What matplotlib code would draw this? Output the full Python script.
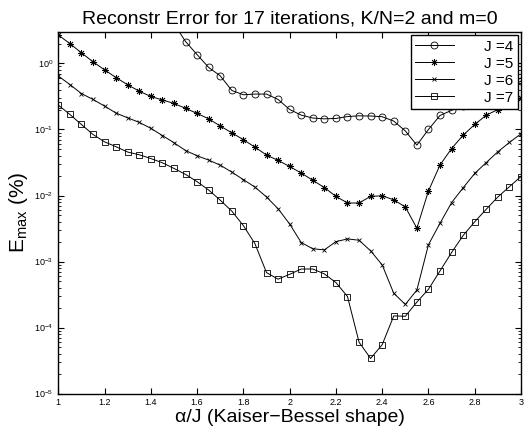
import numpy as np
import matplotlib.pyplot as plt

plt.rcParams["font.family"] = ["Liberation Sans", "DejaVu Sans"]
plt.rcParams["mathtext.fontset"] = "custom"
plt.rcParams["mathtext.rm"] = "Liberation Sans"
plt.rcParams["mathtext.it"] = "Liberation Sans:italic"
plt.rcParams["mathtext.default"] = "regular"

# alpha/J grid
alpha = [1.00, 1.05, 1.10, 1.15, 1.20, 1.25, 1.30, 1.35, 1.40, 1.45,
         1.50, 1.55, 1.60, 1.65, 1.70, 1.75, 1.80, 1.85, 1.90, 1.95,
         2.00, 2.05, 2.10, 2.15, 2.20, 2.25, 2.30, 2.35, 2.40, 2.45,
         2.50, 2.55, 2.60, 2.65, 2.70, 2.75, 2.80, 2.85, 2.90, 2.95, 3.00]

# J=4 only visible from 1.50 on
alpha_j4 = alpha[10:]
err_j4 = [4.0, 2.15, 1.36, 0.87, 0.65, 0.39, 0.336, 0.344, 0.344, 0.285,
          0.201, 0.165, 0.149, 0.145, 0.147, 0.157, 0.161, 0.160, 0.156, 0.134,
          0.095, 0.058, 0.100, 0.163, 0.195, 0.229, 0.27, 0.32, 0.38, 0.45, 0.54]

err_j5 = [2.7, 2.0, 1.45, 1.06, 0.80, 0.61, 0.475, 0.38, 0.316, 0.28,
          0.248, 0.209, 0.175, 0.145, 0.113, 0.089, 0.070, 0.054, 0.041, 0.034,
          0.0275, 0.0219, 0.017, 0.0132, 0.0097, 0.0077, 0.0077, 0.0097, 0.0099, 0.0086,
          0.0067, 0.0032, 0.0117, 0.029, 0.0515, 0.082, 0.119, 0.165, 0.20, 0.243, 0.295]

err_j6 = [0.644, 0.48, 0.35, 0.285, 0.226, 0.177, 0.150, 0.128, 0.104, 0.081,
          0.063, 0.048, 0.040, 0.0344, 0.0288, 0.0226, 0.0174, 0.0134, 0.0095, 0.0063,
          0.0037, 0.00194, 0.00156, 0.00150, 0.0020, 0.0022, 0.0021, 0.00145, 0.00089, 0.00033,
          0.000224, 0.00037, 0.0018, 0.0038, 0.0078, 0.0131, 0.0216, 0.0316, 0.046, 0.0636, 0.086]

err_j7 = [0.234, 0.169, 0.119, 0.084, 0.065, 0.0547, 0.0455, 0.0414, 0.0363, 0.0313,
          0.0257, 0.0209, 0.0162, 0.0121, 0.0085, 0.0058, 0.0035, 0.00186, 0.00068, 0.00054,
          0.00064, 0.00077, 0.00077, 0.00065, 0.00048, 0.000295, 6.0e-5, 3.4e-5, 5.5e-5, 1.5e-4,
          1.48e-4, 2.43e-4, 3.8e-4, 7.2e-4, 0.00137, 0.00248, 0.0040, 0.0062, 0.0095, 0.0136, 0.0194]

fig = plt.figure(figsize=(5.3, 4.32), dpi=100)
ax = fig.add_axes([0.110, 0.089, 0.873, 0.837])

kw = dict(color="black", linewidth=0.7, markeredgewidth=0.6, fillstyle="none")
ax.plot(alpha_j4, err_j4, marker="o", markersize=5, label="J =4", **kw)
ax.plot(alpha, err_j5, marker=(8, 2, 0), markersize=5, label="J =5", **kw)
ax.plot(alpha, err_j6, marker="x", markersize=3.5, label="J =6", **kw)
ax.plot(alpha, err_j7, marker="s", markersize=4, label="J =7", **kw)

ax.set_yscale("log")
ax.set_xlim(1, 3)
ax.set_ylim(1e-5, 3)
ax.set_xticks([1, 1.2, 1.4, 1.6, 1.8, 2, 2.2, 2.4, 2.6, 2.8, 3])
ax.set_xticklabels(["1", "1.2", "1.4", "1.6", "1.8", "2", "2.2", "2.4", "2.6", "2.8", "3"])
ax.tick_params(which="both", direction="in", top=True, right=True, labelsize=6.5)
ax.tick_params(which="major", length=4)
ax.tick_params(which="minor", length=2)
for s in ax.spines.values():
    s.set_linewidth(1.0)

ax.set_title("Reconstr Error for 17 iterations, K/N=2 and m=0", fontsize=14, pad=6)
ax.set_xlabel("α/J (Kaiser−Bessel shape)", fontsize=14, labelpad=1)
ax.set_ylabel(r"E$_{max}$ (%)", fontsize=15, labelpad=3)

ax.legend(loc="upper right", fontsize=11, handlelength=2.5, handletextpad=2.0,
          borderpad=0.3, labelspacing=0.2, borderaxespad=0.2,
          fancybox=False, edgecolor="black", framealpha=1)

fig.savefig("out.png", dpi=100)
